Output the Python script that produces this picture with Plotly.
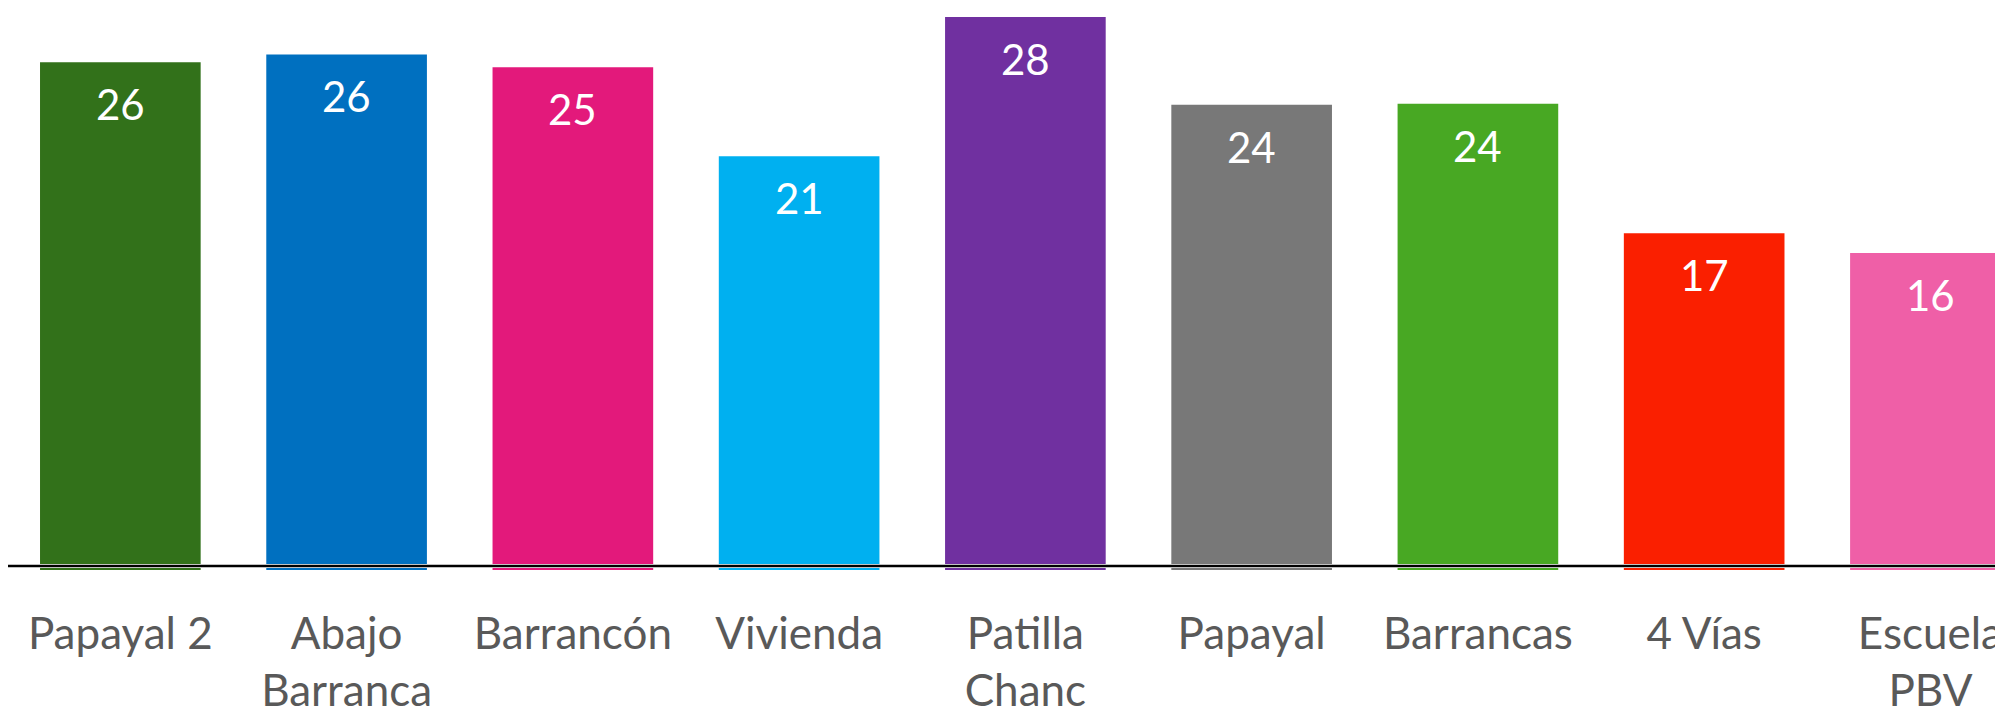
import plotly.graph_objects as go

categories = ["Papayal 2", "Abajo<br>Barranca", "Barrancón", "Vivienda", "Patilla<br>Chanc",
              "Papayal", "Barrancas", "4 Vías", "Escuela<br>PBV"]
values = [25.7, 26.1, 25.45, 20.95, 28.0, 23.55, 23.6, 17.05, 16.05]
colors = ["#32711A", "#0070C0", "#E3197B", "#00B0F0", "#7030A0",
          "#787878", "#48A823", "#FA1F00", "#EF5FA7"]

FONT = "Lato"
fig = go.Figure()
fig.add_trace(go.Bar(
    x=list(range(len(categories))),
    y=values,
    marker=dict(color=colors, line=dict(width=0)),
    hoverinfo="skip",
))

for i, v in enumerate(values):
    fig.add_annotation(x=i, y=v, text=f"{v:.0f}", showarrow=False,
                       yanchor="middle", yshift=-42,
                       font=dict(family=FONT, size=42, color="white"))

# baseline
fig.add_shape(type="line", xref="paper", x0=0, x1=1, yref="y", y0=0.2, y1=0.2,
              line=dict(color="#BFBFBF", width=4), layer="above")
fig.add_shape(type="line", xref="paper", x0=0, x1=1, yref="y", y0=0.2, y1=0.2,
              line=dict(color="black", width=2), layer="above")

fig.update_layout(
    width=1995, height=707,
    margin=dict(l=0, r=0, t=0, b=140),
    plot_bgcolor="white", paper_bgcolor="white",
    bargap=0.29,
    showlegend=False,
    xaxis=dict(range=[-0.4965, 8.3075], tickmode="array",
               tickvals=list(range(len(categories))), ticktext=categories,
               showgrid=False, zeroline=False, showline=False, ticks="",
               tickfont=dict(family=FONT, size=44, color="#595959"),
               ticklabelstandoff=34, ticklabeloverflow="allow"),
    yaxis=dict(range=[0, 28.45], visible=False, showgrid=False, zeroline=False),
)

fig.write_html("out.html")
